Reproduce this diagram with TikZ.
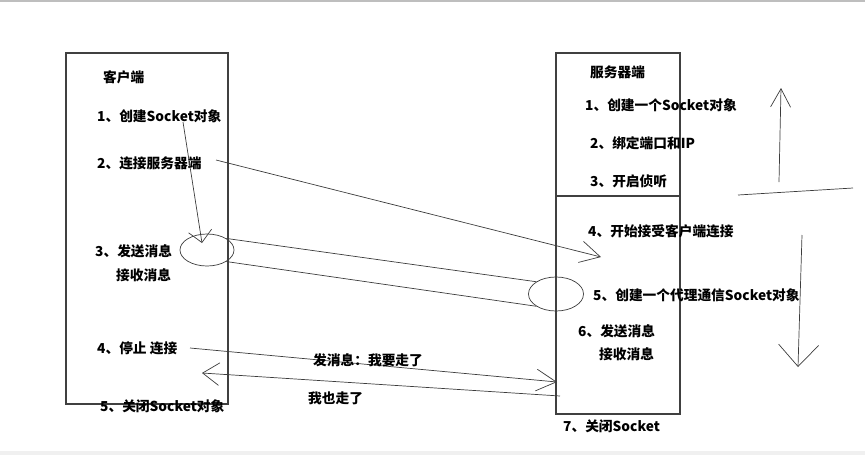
\documentclass[tikz,border=0pt]{standalone}
\usepackage{fontspec}
\setmainfont{Noto Sans CJK SC}
\usepackage{tikz}
\usetikzlibrary{arrows.meta,positioning,shapes}
\definecolor{linegray}{RGB}{60,60,60}
\definecolor{framegray}{RGB}{190,190,190}

\begin{document}
\begin{tikzpicture}[x=0.3mm,y=-0.3mm,
  lbl/.style={font=\bfseries\fontsize{11.7pt}{14pt}\selectfont,inner sep=0pt,anchor=west},
  box/.style={draw=black!75,line width=0.9pt},
  link/.style={draw=linegray,line width=0.6pt},
  hand/.style={-{Straight Barb[length=6mm,width=6.5mm]}}]
  \useasboundingbox (0,0) rectangle (865,455);
  % screen edges
  \draw[framegray,line width=1pt] (0,1) -- (865,1);
  \fill[black!6] (0,451) rectangle (865,455);

  % --- LEFT: client -----------------------------------------------------
  \draw[box] (66,53) rectangle (228,404);
  \node[lbl] (client) at (103,77) {客户端};
  \node[lbl] (c1) at (97,116) {1、创建Socket对象};
  \node[lbl] (c2) at (97,163) {2、连接服务器端};
  \node[lbl] (c3) at (95,251) {3、发送消息};
  \node[lbl] (c3b) at (116,275) {接收消息};
  \node[lbl] (c4) at (97,348) {4、停止 连接};
  \node[lbl] (c5) at (100,406) {5、关闭Socket对象};
  \node[ellipse,draw=linegray,line width=0.6pt,minimum width=16.2mm,minimum height=9.6mm,inner sep=0pt] (ce) at (207,250) {};

  % --- RIGHT: server ----------------------------------------------------
  \draw[box] (556,53) rectangle (680,414);
  \draw[box] (556,196) -- (680,196);
  \node[lbl] (server) at (590,72) {服务器端};
  \node[lbl] (s1) at (585,105) {1、创建一个Socket对象};
  \node[lbl] (s2) at (590,143) {2、绑定端口和IP};
  \node[lbl] (s3) at (590,181) {3、开启侦听};
  \node[lbl] (s4) at (588,231) {4、开始接受客户端连接};
  \node[lbl] (s5) at (593,295) {5、创建一个代理通信Socket对象};
  \node[lbl] (s6) at (578,331) {6、发送消息};
  \node[lbl] (s6b) at (599,354) {接收消息};
  \node[lbl] (s7) at (563,426) {7、关闭Socket};
  \node[ellipse,draw=linegray,line width=0.6pt,minimum width=16.5mm,minimum height=10.2mm,inner sep=0pt] (se) at (556,294) {};

  % --- connections --------------------------------------------------------
  \coordinate (a1) at (183,122);
  \coordinate (a1tip) at (202,243);
  \draw[link,-{Straight Barb[length=3.5mm,width=7mm]}] (a1) -- (a1tip);
  \coordinate (a2) at (216,160);
  \coordinate (a2tip) at (601,257);
  \draw[link,hand] (a2) -- (a2tip);
  \draw[link] (ce.north east) -- (se.north west);
  \draw[link] (ce.south east) -- (se.south west);
  \coordinate (a4) at (190,348);
  \coordinate (a4tip) at (557,382);
  \draw[link,hand] (a4) -- (a4tip);
  \node[lbl] (bye) at (313,360) {发消息：我要走了};
  \coordinate (a5) at (560,396);
  \coordinate (a5tip) at (202,373);
  \draw[link,-{Straight Barb[length=5mm,width=6.8mm]}] (a5) -- (a5tip);
  \node[lbl] (byetoo) at (308,398) {我也走了};

  % --- side arrows ------------------------------------------------------
  \coordinate (hl) at (738,195);
  \coordinate (hr) at (853,188);
  \draw[link] (hl) -- (hr);
  \coordinate (up) at (779,182);
  \coordinate (uptip) at (781,88);
  \draw[link,-{Straight Barb[length=5.5mm,width=6mm]}] (up) -- (uptip);
  \coordinate (dn) at (802,235);
  \coordinate (dntip) at (798,367);
  \draw[link,-{Straight Barb[length=6.5mm,width=12mm]}] (dn) -- (dntip);
\end{tikzpicture}
\end{document}
